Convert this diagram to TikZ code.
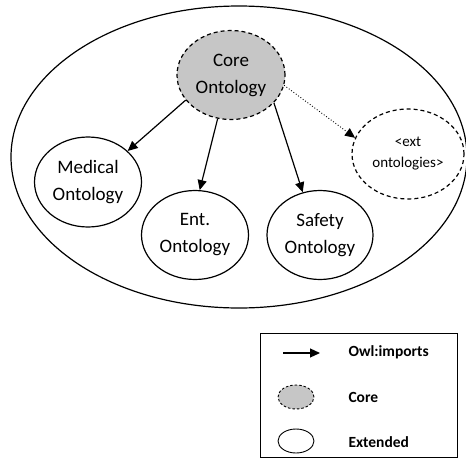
\documentclass[tikz,border=0pt]{standalone}
\usepackage{fontspec}
\setmainfont{Carlito}
\usetikzlibrary{arrows.meta,shapes.geometric}
\begin{document}
\begin{tikzpicture}[x=1pt,y=-1pt,
  onto/.style={ellipse,draw,line width=1.2pt,inner sep=0pt,align=center,font=\fontsize{19}{27}\selectfont},
  core/.style={onto,fill=gray!45,dashed,dash pattern=on 4pt off 3pt},
  ext/.style={onto,dashed,dash pattern=on 4pt off 3pt,font=\fontsize{15}{21}\selectfont},
  imp/.style={-{Triangle[length=10pt,width=9pt]},line width=1.2pt},
  lbl/.style={anchor=west,font=\bfseries\fontsize{15.5}{18}\selectfont}]
\useasboundingbox (0,0) rectangle (466,458);
\node[ellipse,draw,line width=1.2pt,minimum width=456pt,minimum height=302pt] (outer) at (239,157) {};
\node[core,minimum width=108pt,minimum height=89pt] (core) at (231,75) {Core\\Ontology};
\node[onto,minimum width=107pt,minimum height=90pt] (med) at (88,182) {Medical\\Ontology};
\node[onto,minimum width=107pt,minimum height=89pt] (ent) at (195,235) {Ent.\\Ontology};
\node[onto,minimum width=106pt,minimum height=89pt] (saf) at (320,235) {Safety\\Ontology};
\node[ext,minimum width=112pt,minimum height=90pt] (ext) at (408,154) {<ext\\ontologies>};
\draw[imp] (core.209) -- (med.38);
\draw[imp] (core.253) -- (ent.84);
\draw[imp] (core.327) -- (saf.112);
\draw[-{Triangle[length=10pt,width=9pt]},line width=0.9pt,dotted] (core.349) -- (ext.163);
% legend
\node[draw,line width=0.9pt,minimum width=197pt,minimum height=124pt,inner sep=0pt] (leg) at (358.5,395) {};
\coordinate (a1) at (283,353);
\coordinate (a2) at (320,353);
\draw[imp] (a1) -- (a2);
\node[lbl] (t1) at (345,352) {Owl:imports};
\node[ellipse,draw,fill=gray!45,dashed,dash pattern=on 2.5pt off 2pt,line width=0.9pt,minimum width=36pt,minimum height=24pt,inner sep=0pt] (lc) at (296,397) {};
\node[lbl] (t2) at (345,397) {Core};
\node[ellipse,draw,line width=0.9pt,minimum width=36pt,minimum height=24pt,inner sep=0pt] (le) at (296,441) {};
\node[lbl] (t3) at (345,442) {Extended};
\end{tikzpicture}
\end{document}
